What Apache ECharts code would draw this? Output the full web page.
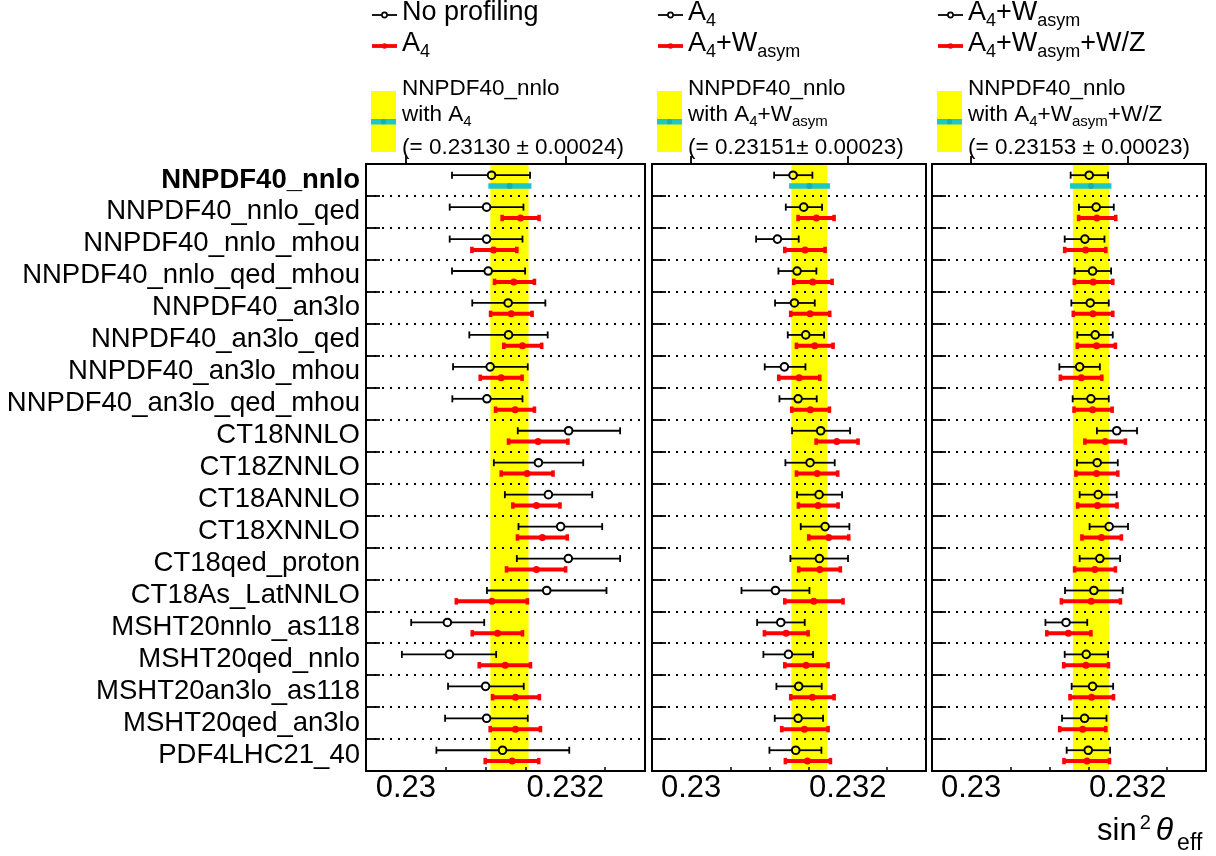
<!DOCTYPE html>
<html><head><meta charset="utf-8">
<script src="https://cdn.jsdelivr.net/npm/echarts@6/dist/echarts.min.js"></script>
<style>html,body{margin:0;padding:0;background:#fff}#c{width:1216px;height:856px}</style>
</head><body><div id="c"></div>
<script>
// ---------------- data ----------------
const rowNames = ['NNPDF40_nnlo','NNPDF40_nnlo_qed','NNPDF40_nnlo_mhou','NNPDF40_nnlo_qed_mhou','NNPDF40_an3lo','NNPDF40_an3lo_qed','NNPDF40_an3lo_mhou','NNPDF40_an3lo_qed_mhou','CT18NNLO','CT18ZNNLO','CT18ANNLO','CT18XNNLO','CT18qed_proton','CT18As_LatNNLO','MSHT20nnlo_as118','MSHT20qed_nnlo','MSHT20an3lo_as118','MSHT20qed_an3lo','PDF4LHC21_40'];
const xTickLabels = [0.23, 0.232];
const xMinorTicks = [0.2305, 0.231, 0.2315, 0.2325];

// panel 1: No profiling (black) vs A4 (red)
const p1BlackVal = [0.231075,0.231013,0.231013,0.231033,0.231283,0.231288,0.231058,0.231017,0.232042,0.231663,0.231788,0.231942,0.232038,0.231767,0.230521,0.230546,0.231000,0.231013,0.231213];
const p1BlackLo  = [0.230579,0.230550,0.230550,0.230579,0.230833,0.230796,0.230592,0.230583,0.231404,0.231104,0.231242,0.231413,0.231392,0.231017,0.230067,0.229950,0.230529,0.230492,0.230383];
const p1BlackHi  = [0.231558,0.231475,0.231463,0.231496,0.231750,0.231779,0.231529,0.231463,0.232688,0.232225,0.232338,0.232463,0.232688,0.232517,0.230983,0.231133,0.231479,0.231529,0.232050];
const p1RedVal = [null,0.231438,0.231100,0.231354,0.231321,0.231463,0.231196,0.231371,0.231658,0.231521,0.231638,0.231713,0.231638,0.231079,0.231150,0.231246,0.231375,0.231375,0.231333];
const p1RedLo  = [null,0.231208,0.230829,0.231113,0.231063,0.231229,0.230933,0.231125,0.231288,0.231196,0.231342,0.231400,0.231263,0.230633,0.230833,0.230921,0.231088,0.231058,0.230996];
const p1RedHi  = [null,0.231671,0.231392,0.231613,0.231583,0.231704,0.231458,0.231613,0.232033,0.231846,0.231933,0.232025,0.232004,0.231525,0.231463,0.231563,0.231675,0.231688,0.231667];

// panel 2: A4 (black) vs A4+Wasym (red)
const p2BlackVal = [0.231302,0.231438,0.231102,0.231353,0.231319,0.231464,0.231191,0.231366,0.231655,0.231519,0.231634,0.231711,0.231638,0.231077,0.231145,0.231243,0.231374,0.231366,0.231336];
const p2BlackLo  = [0.231060,0.231209,0.230830,0.231115,0.231072,0.231234,0.230940,0.231128,0.231289,0.231204,0.231353,0.231400,0.231268,0.230643,0.230843,0.230923,0.231089,0.231068,0.231000];
const p2BlackHi  = [0.231549,0.231672,0.231374,0.231600,0.231579,0.231698,0.231460,0.231604,0.232030,0.231834,0.231928,0.232021,0.232004,0.231511,0.231451,0.231557,0.231668,0.231685,0.231664];
const p2RedVal = [null,0.231600,0.231455,0.231553,0.231519,0.231579,0.231379,0.231523,0.231860,0.231609,0.231621,0.231757,0.231643,0.231566,0.231213,0.231468,0.231549,0.231447,0.231485];
const p2RedLo  = [null,0.231366,0.231196,0.231311,0.231272,0.231345,0.231119,0.231285,0.231596,0.231345,0.231370,0.231502,0.231374,0.231196,0.230936,0.231196,0.231272,0.231157,0.231204];
const p2RedHi  = [null,0.231826,0.231711,0.231800,0.231770,0.231813,0.231643,0.231766,0.232132,0.231872,0.231877,0.232013,0.231906,0.231940,0.231494,0.231749,0.231826,0.231749,0.231779];

// panel 3: A4+Wasym (black) vs A4+Wasym+W/Z (red)
const p3BlackVal = [0.231508,0.231597,0.231453,0.231551,0.231521,0.231585,0.231386,0.231530,0.231860,0.231610,0.231623,0.231763,0.231644,0.231568,0.231212,0.231470,0.231551,0.231449,0.231496];
const p3BlackLo  = [0.231271,0.231377,0.231195,0.231322,0.231280,0.231356,0.231127,0.231297,0.231606,0.231352,0.231386,0.231513,0.231386,0.231199,0.230949,0.231195,0.231284,0.231161,0.231220];
const p3BlackHi  = [0.231750,0.231822,0.231703,0.231788,0.231758,0.231809,0.231644,0.231758,0.232119,0.231873,0.231860,0.232004,0.231903,0.231936,0.231483,0.231750,0.231814,0.231729,0.231775];
const p3RedVal = [null,0.231606,0.231462,0.231559,0.231555,0.231602,0.231407,0.231551,0.231712,0.231602,0.231614,0.231665,0.231580,0.231534,0.231242,0.231466,0.231538,0.231424,0.231479];
const p3RedLo  = [null,0.231373,0.231195,0.231318,0.231305,0.231356,0.231140,0.231314,0.231453,0.231339,0.231360,0.231415,0.231322,0.231153,0.230966,0.231182,0.231263,0.231131,0.231186];
const p3RedHi  = [null,0.231847,0.231720,0.231809,0.231809,0.231843,0.231669,0.231801,0.231970,0.231873,0.231864,0.231919,0.231843,0.231907,0.231530,0.231754,0.231818,0.231720,0.231767];

// NNPDF40_nnlo reference band (yellow) and its profiled point (cyan), per panel
const bandCenter = [0.23130, 0.23151, 0.23153];
const bandError  = [0.00024, 0.00023, 0.00023];
const cyanVal = [0.23130, 0.23151, 0.23153];
const cyanLo  = [0.231035, 0.231251, 0.231263];
const cyanHi  = [0.231575, 0.231774, 0.231792];

// legend texts (fragments: [text, isSubscript])
const legendBlack = [[['No profiling',0]], [['A',0],['4',1]], [['A',0],['4',1],['+W',0],['asym',1]]];
const legendRed   = [[['A',0],['4',1]], [['A',0],['4',1],['+W',0],['asym',1]], [['A',0],['4',1],['+W',0],['asym',1],['+W/Z',0]]];
const bandLine2   = [[['with A',0],['4',1]], [['with A',0],['4',1],['+W',0],['asym',1]], [['with A',0],['4',1],['+W',0],['asym',1],['+W/Z',0]]];
const bandLine3   = ['(= 0.23130 \u00b1 0.00024)', '(= 0.23151\u00b1 0.00023)', '(= 0.23153 \u00b1 0.00023)'];

// ---------------- layout ----------------
const FONT = '"Liberation Sans", Arial, Helvetica, sans-serif';
const panelLeft = [366, 652, 932];
const panelWidth = [279, 274, 274];
const gridTop = 164, gridHeight = 607;
const X_MIN = 0.2295, X_MAX = 0.233;
const N = rowNames.length;
const BLACK_OFF = 0.35, RED_OFF = 0.69;

const panels = [
  {bv:p1BlackVal, bl:p1BlackLo, bh:p1BlackHi, rv:p1RedVal, rl:p1RedLo, rh:p1RedHi},
  {bv:p2BlackVal, bl:p2BlackLo, bh:p2BlackHi, rv:p2RedVal, rl:p2RedLo, rh:p2RedHi},
  {bv:p3BlackVal, bl:p3BlackLo, bh:p3BlackHi, rv:p3RedVal, rl:p3RedLo, rh:p3RedHi}
];

const grids = [], xAxes = [], yAxes = [], series = [];

function blackRender(params, api) {
  const y = api.value(3);
  const c = api.coord([api.value(0), y]);
  const l = api.coord([api.value(1), y]);
  const h = api.coord([api.value(2), y]);
  const r = 3.8, cap = 3.5;
  const ls = {stroke:'#000', lineWidth:1.8};
  return {type:'group', children:[
    {type:'line', shape:{x1:l[0], y1:c[1], x2:c[0]-r, y2:c[1]}, style:ls},
    {type:'line', shape:{x1:c[0]+r, y1:c[1], x2:h[0], y2:c[1]}, style:ls},
    {type:'line', shape:{x1:l[0], y1:c[1]-cap, x2:l[0], y2:c[1]+cap}, style:ls},
    {type:'line', shape:{x1:h[0], y1:c[1]-cap, x2:h[0], y2:c[1]+cap}, style:ls},
    {type:'circle', shape:{cx:c[0], cy:c[1], r:r}, style:{fill:null, stroke:'#000', lineWidth:2}}
  ]};
}
function redRender(params, api) {
  const y = api.value(3);
  const c = api.coord([api.value(0), y]);
  const l = api.coord([api.value(1), y]);
  const h = api.coord([api.value(2), y]);
  return {type:'group', children:[
    {type:'line', shape:{x1:l[0], y1:c[1], x2:h[0], y2:c[1]}, style:{stroke:'#ff0000', lineWidth:4}},
    {type:'rect', shape:{x:l[0]-1.8, y:c[1]-3.2, width:3.6, height:6.4}, style:{fill:'#ff0000'}},
    {type:'rect', shape:{x:h[0]-1.8, y:c[1]-3.2, width:3.6, height:6.4}, style:{fill:'#ff0000'}},
    {type:'circle', shape:{cx:c[0], cy:c[1], r:3.5}, style:{fill:'#ff0000'}}
  ]};
}
function cyanRender(params, api) {
  const y = api.value(3);
  const c = api.coord([api.value(0), y]);
  const l = api.coord([api.value(1), y]);
  const h = api.coord([api.value(2), y]);
  return {type:'group', children:[
    {type:'line', shape:{x1:l[0], y1:c[1], x2:h[0], y2:c[1]}, style:{stroke:'#1fc6c9', lineWidth:5.5}},
    {type:'circle', shape:{cx:c[0], cy:c[1], r:3}, style:{fill:'#16aeb1'}}
  ]};
}
function bandRender(params, api) {
  const a = api.coord([api.value(0), 0]);
  const b = api.coord([api.value(1), N]);
  return {type:'rect', shape:{x:a[0], y:Math.min(a[1], b[1]), width:b[0]-a[0], height:Math.abs(b[1]-a[1])}, style:{fill:'#ffff00'}};
}

function rows(val, lo, hi, off) {
  const out = [];
  for (let i = 0; i < val.length; i++) if (val[i] != null) out.push([val[i], lo[i], hi[i], i + off]);
  return out;
}

for (let g = 0; g < 3; g++) {
  grids.push({left:panelLeft[g], top:gridTop, width:panelWidth[g], height:gridHeight,
    show:true, borderColor:'#000', borderWidth:2, backgroundColor:'transparent'});
  xAxes.push({type:'value', gridIndex:g, min:X_MIN, max:X_MAX, interval:0.0005,
    axisLine:{show:true, onZero:false, lineStyle:{color:'#000', width:2}},
    axisTick:{show:true, inside:true, length:4, customValues:xMinorTicks, lineStyle:{color:'#000', width:1.5}},
    axisLabel:{show:true, customValues:xTickLabels, margin:2, color:'#000', fontSize:31, fontFamily:FONT,
      formatter: v => String(+(+v).toFixed(4))},
    splitLine:{show:false}});
  xAxes.push({type:'value', gridIndex:g, min:X_MIN, max:X_MAX, interval:0.0005, position:'bottom',
    axisLine:{show:false},
    axisTick:{show:true, inside:true, length:8, customValues:xTickLabels, lineStyle:{color:'#000', width:1.8}},
    axisLabel:{show:false}, splitLine:{show:false}});
  yAxes.push({type:'value', gridIndex:g, min:0, max:N, interval:1, inverse:true,
    axisLine:{show:false},
    axisTick:{show:true, inside:true, length:14, lineStyle:{color:'#000', width:1.8}},
    splitLine:{show:true, lineStyle:{color:'#000', width:2, type:[2,6]}},
    axisLabel: g === 0 ? {show:true, customValues: rowNames.map((_, i) => i + 0.5), margin:6,
      color:'#000', fontSize:27.5, fontFamily:FONT,
      formatter: v => { const i = Math.floor(v); return i === 0 ? '{b|' + rowNames[i] + '}' : rowNames[i]; },
      rich:{b:{fontWeight:'bold', fontSize:27.5, fontFamily:FONT, color:'#000'}}} : {show:false}});

  const P = panels[g];
  const common = {type:'custom', xAxisIndex:g*2, yAxisIndex:g, silent:true, animation:false,
    encode:{x:[0,1,2], y:3}, clip:false};
  series.push(Object.assign({}, common, {z:-1, encode:{x:[0,1]},
    data:[[bandCenter[g]-bandError[g], bandCenter[g]+bandError[g]]], renderItem:bandRender}));
  series.push(Object.assign({}, common, {z:3, data:[[cyanVal[g], cyanLo[g], cyanHi[g], RED_OFF]], renderItem:cyanRender}));
  series.push(Object.assign({}, common, {z:4, data:rows(P.rv, P.rl, P.rh, RED_OFF), renderItem:redRender}));
  series.push(Object.assign({}, common, {z:5, data:rows(P.bv, P.bl, P.bh, BLACK_OFF), renderItem:blackRender}));
}

// ---------------- text helpers (legends, axis title) ----------------
const mctx = document.createElement('canvas').getContext('2d');
function tw(t, size, style) { mctx.font = (style || '') + ' ' + size + 'px ' + FONT; return mctx.measureText(t).width; }
function textEl(t, x, baseline, size, extra) {
  const st = Object.assign({text:t, fontSize:size, fontFamily:FONT, fill:'#000',
    align:'left', verticalAlign:'middle', textAlign:'left', textVerticalAlign:'middle'}, extra || {});
  return {type:'text', x:x, y:baseline - 0.3465 * size, z:10, silent:true, style:st};
}
function fragLine(x, baseline, size, frags) {
  const els = [];
  const sub = Math.round(size * 0.66), dy = size * 0.19;
  for (const [t, isSub] of frags) {
    const s = isSub ? sub : size;
    els.push(textEl(t, x, baseline + (isSub ? dy : 0), s));
    x += tw(t, s);
  }
  return els;
}

const graphics = [];
for (let g = 0; g < 3; g++) {
  const L = panelLeft[g];
  const mx0 = L + 6, mx1 = L + 31, tx = L + 36;
  // black marker
  graphics.push({type:'line', shape:{x1:mx0, y1:15, x2:mx1, y2:15}, style:{stroke:'#000', lineWidth:1.8}, silent:true});
  graphics.push({type:'circle', shape:{cx:(mx0+mx1)/2, cy:15, r:2.6}, style:{fill:'#fff', stroke:'#000', lineWidth:1.6}, silent:true});
  // red marker
  graphics.push({type:'line', shape:{x1:mx0, y1:46, x2:mx1, y2:46}, style:{stroke:'#ff0000', lineWidth:3.8}, silent:true});
  graphics.push({type:'circle', shape:{cx:(mx0+mx1)/2, cy:46, r:2.8}, style:{fill:'#ff0000'}, silent:true});
  graphics.push(...fragLine(tx, 22, 27, legendBlack[g]));
  graphics.push(...fragLine(tx, 53, 27, legendRed[g]));
  // band legend
  graphics.push({type:'rect', shape:{x:mx0 - 1, y:91, width:25, height:61}, style:{fill:'#ffff00'}, silent:true});
  graphics.push({type:'rect', shape:{x:mx0 - 1, y:119, width:25, height:5.5}, style:{fill:'#1fc6c9'}, silent:true});
  graphics.push({type:'circle', shape:{cx:mx0 + 11.5, cy:121.7, r:2.6}, style:{fill:'#16aeb1'}, silent:true});
  graphics.push(...fragLine(tx, 97, 22.5, [['NNPDF40_nnlo',0]]));
  graphics.push(...fragLine(tx, 123, 22.5, bandLine2[g]));
  graphics.push(...fragLine(tx, 156, 22.5, [[bandLine3[g],0]]));
}
// axis title: sin^2 theta_eff
(function(){
  let x = 1097;
  graphics.push(textEl('sin', x, 842, 31)); x += tw('sin', 31) + 3;
  graphics.push(textEl('2', x, 830, 20)); x += tw('2', 20) + 5;
  graphics.push(textEl('\u03b8', x, 842, 32, {fontStyle:'italic'})); x += tw('\u03b8', 32, 'italic') + 4;
  graphics.push(textEl('eff', x, 852, 23));
})();

const chart = echarts.init(document.getElementById('c'), null, {width:1216, height:856});
chart.setOption({
  backgroundColor:'#ffffff',
  animation:false,
  grid:grids, xAxis:xAxes, yAxis:yAxes, series:series,
  graphic:{elements:graphics}
});
</script>
</body></html>
